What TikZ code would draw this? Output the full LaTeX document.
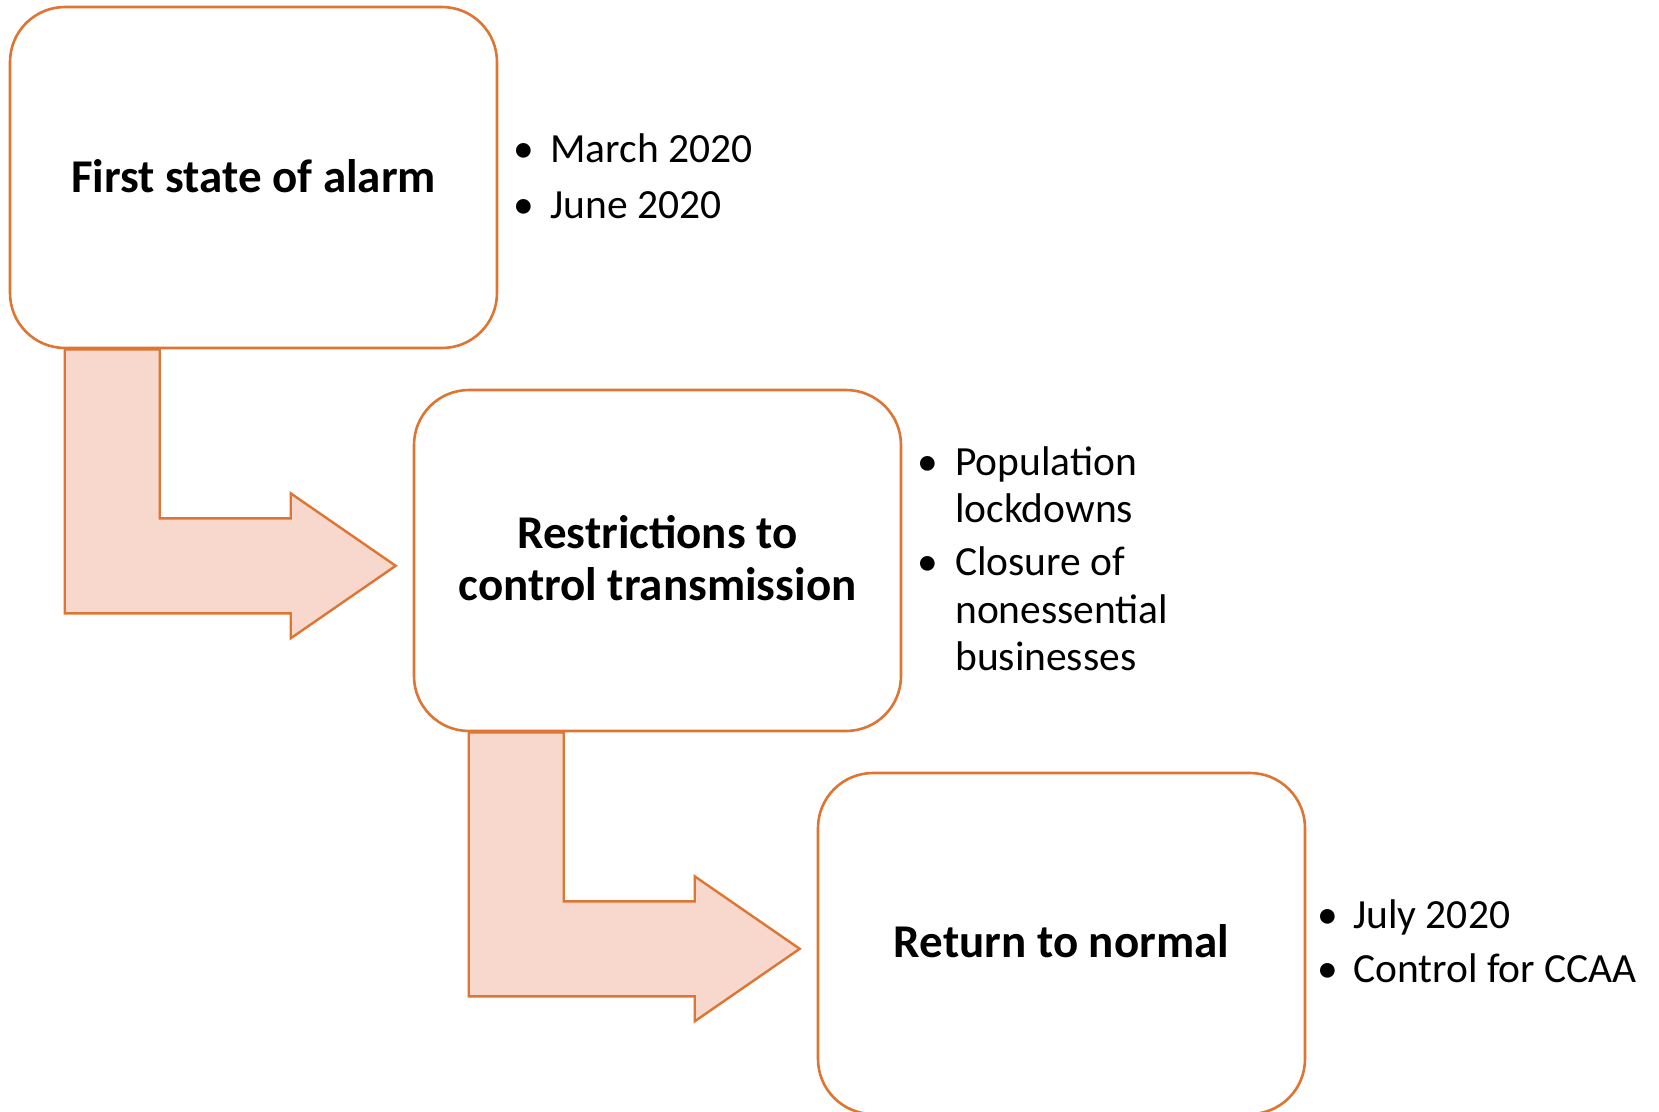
\documentclass[tikz,border=0pt]{standalone}
\usepackage{fontspec}
\setmainfont{Carlito}
\usetikzlibrary{calc,backgrounds}
\definecolor{boxline}{RGB}{222,117,50}
\definecolor{arrowfill}{RGB}{248,216,204}
\begin{document}
\begin{tikzpicture}[x=1pt,y=1pt,
  stagebox/.style={draw=boxline, line width=2.6pt, fill=white, rounded corners=55pt,
    minimum width=487pt, minimum height=341pt, inner sep=0pt},
  bentarrow/.style={draw=boxline, line width=2.4pt, fill=arrowfill, line join=miter},
  title/.style={font=\fontsize{47}{52}\selectfont\bfseries, anchor=base, inner sep=0pt},
  item/.style={font=\fontsize{41.5}{47}\selectfont, anchor=base west, inner sep=0pt},
  dot/.style={font=\fontsize{41.5}{47}\selectfont, anchor=base, inner sep=0pt}]
\useasboundingbox (0,0) rectangle (1659,-1111);
\clip (0,0) rectangle (1659,-1111);

% boxes
\node[stagebox] (b1) at (253.5,-177.5) {};
\node[stagebox] (b2) at (657.5,-560.5) {};
\node[stagebox] (b3) at (1061.5,-943.5) {};

% bent arrows (behind the boxes)
\begin{scope}[on background layer]
\draw[bentarrow] ($(b1.south west)+(56,0)$) -- ($(b1.south west)+(151,0)$)
  -- ($(b1.south west)+(151,-169)$) -- ($(b1.south west)+(282,-169)$)
  -- ($(b1.south west)+(282,-144)$) -- ($(b1.south west)+(387,-216.5)$)
  -- ($(b1.south west)+(282,-289)$) -- ($(b1.south west)+(282,-264)$)
  -- ($(b1.south west)+(56,-264)$) -- cycle;
\draw[bentarrow] ($(b2.south west)+(56,0)$) -- ($(b2.south west)+(151,0)$)
  -- ($(b2.south west)+(151,-169)$) -- ($(b2.south west)+(282,-169)$)
  -- ($(b2.south west)+(282,-144)$) -- ($(b2.south west)+(387,-216.5)$)
  -- ($(b2.south west)+(282,-289)$) -- ($(b2.south west)+(282,-264)$)
  -- ($(b2.south west)+(56,-264)$) -- cycle;
\end{scope}

% titles
\node[title] (t1) at (253.5,-192) {First state of alarm};
\node[title] (t2a) at (657.5,-548) {Restrictions to};
\node[title] (t2b) at (657.5,-600) {control transmission};
\node[title] (t3) at (1061.5,-957) {Return to normal};

% bullets box 1
\node[dot] (d1a) at (524,-162) {•};
\node[item] (i1a) at (550,-162) {March 2020};
\node[dot] (d1b) at (524,-218) {•};
\node[item] (i1b) at (550,-218) {June 2020};

% bullets box 2
\node[dot] (d2a) at (928,-475) {•};
\node[item] (i2a) at (955,-475) {Population};
\node[item] (i2b) at (955,-522) {lockdowns};
\node[dot] (d2c) at (928,-575) {•};
\node[item] (i2c) at (955,-575) {Closure of};
\node[item] (i2d) at (955,-623) {nonessential};
\node[item] (i2e) at (955,-670) {businesses};

% bullets box 3
\node[dot] (d3a) at (1328,-928) {•};
\node[item] (i3a) at (1353,-928) {July 2020};
\node[dot] (d3b) at (1328,-982) {•};
\node[item] (i3b) at (1353,-982) {Control for CCAA};
\end{tikzpicture}
\end{document}
